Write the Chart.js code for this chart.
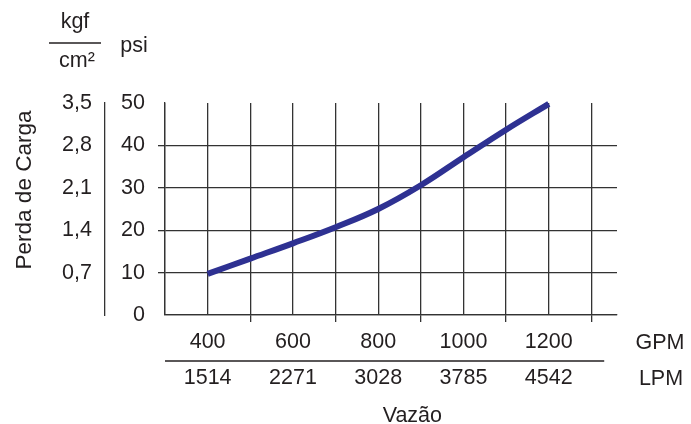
<!DOCTYPE html>
<html>
<head>
<meta charset="utf-8">
<script src="https://cdn.jsdelivr.net/npm/chart.js@4.4.1/dist/chart.umd.min.js"></script>
<style>
    html, body { margin: 0; padding: 0; background: #fff; }
    #wrap { width: 691px; height: 424px; }
</style>
</head>
<body>
<div id="wrap"><canvas id="chartCanvas" width="691" height="424"></canvas></div>
<script>
// Curve (flow in GPM, pressure drop in psi)
const flowGpm = [400, 500, 600, 700, 800, 900, 1000, 1100, 1200];
const lossPsi = [9.7, 13.3, 16.9, 20.7, 25.0, 30.6, 37.2, 43.7, 49.8];

// Tick labels
const gpmLabels = [400, 600, 800, 1000, 1200];
const lpmLabels = [1514, 2271, 3028, 3785, 4542];
const gridGpm = [300, 400, 500, 600, 700, 800, 900, 1000, 1100, 1200, 1300];
const psiTicks = [0, 10, 20, 30, 40, 50];
const kgfTicks = [0.7, 1.4, 2.1, 2.8, 3.5];

const ink = '#231f20';
const gridInk = '#333333';
const lineBlue = '#2e3192';
const fontFamily = '"Liberation Sans", Arial, sans-serif';
const fontSize = 21.5;

const chartCanvas = document.getElementById('chartCanvas');

// Extra text and the GPM / LPM divider, placed from the scales
const extraText = {
    id: 'extraText',
    afterDraw(chart) {
        const ctx = chart.ctx;
        const x = chart.scales.x;
        const area = chart.chartArea;
        ctx.save();
        ctx.fillStyle = ink;
        ctx.strokeStyle = ink;
        ctx.font = fontSize + 'px ' + fontFamily;
        ctx.textAlign = 'center';
        ctx.textBaseline = 'alphabetic';

        // units above the y labels
        ctx.fillText('kgf', 75, 28);
        ctx.fillText('cm²', 77, 67);
        ctx.fillText('psi', 134, 52);
        ctx.lineWidth = 1.5;
        ctx.beginPath();
        ctx.moveTo(49, 43);
        ctx.lineTo(101, 43);
        ctx.stroke();

        // y title
        ctx.save();
        ctx.translate(25, 190);
        ctx.rotate(-Math.PI / 2);
        ctx.textBaseline = 'middle';
        ctx.font = '22.5px ' + fontFamily;
        ctx.fillText('Perda de Carga', 0, 0);
        ctx.restore();

        // divider between GPM and LPM rows
        ctx.lineWidth = 1.5;
        ctx.beginPath();
        ctx.moveTo(area.left, 361);
        ctx.lineTo(x.getPixelForValue(1330), 361);
        ctx.stroke();

        ctx.textBaseline = 'middle';
        ctx.fillText('GPM', 660, 343);
        ctx.fillText('LPM', 661, 379);

        ctx.textBaseline = 'alphabetic';
        ctx.fillText('Vazão', x.getPixelForValue(880), 422);
        ctx.restore();
    }
};

new Chart(chartCanvas, {
    type: 'line',
    data: {
        datasets: [{
            data: flowGpm.map((g, i) => ({ x: g, y: lossPsi[i] })),
            xAxisID: 'x',
            yAxisID: 'y',
            borderColor: lineBlue,
            borderWidth: 6,
            borderCapStyle: 'butt',
            pointRadius: 0,
            tension: 0.4,
            fill: false,
            clip: false
        }]
    },
    options: {
        responsive: false,
        animation: false,
        devicePixelRatio: 1,
        layout: {
            padding: { top: 103, right: 74, left: 0, bottom: 0 }
        },
        plugins: {
            legend: { display: false },
            tooltip: { enabled: false }
        },
        scales: {
            x: {
                type: 'linear',
                min: 300,
                max: 1360,
                afterBuildTicks: function (scale) {
                    scale.ticks = gridGpm.map(v => ({ value: v }));
                },
                afterFit: function (scale) {
                    scale.height = 109;
                },
                grid: {
                    color: gridInk,
                    lineWidth: 1.3,
                    tickLength: 7,
                    tickWidth: 1.3,
                    tickColor: function (c) {
                        const v = c.tick ? c.tick.value : 0;
                        return v >= 500 && (v / 100) % 2 === 1 ? gridInk : 'rgba(0,0,0,0)';
                    }
                },
                border: { display: true, color: gridInk, width: 1.3 },
                ticks: {
                    autoSkip: false,
                    maxRotation: 0,
                    padding: 2,
                    color: ink,
                    font: { family: fontFamily, size: fontSize, lineHeight: 36 / fontSize },
                    callback: function (value) {
                        const i = gpmLabels.indexOf(value);
                        return i < 0 ? '' : [String(gpmLabels[i]), String(lpmLabels[i])];
                    }
                }
            },
            y: {
                type: 'linear',
                position: 'left',
                weight: 0,
                min: 0,
                max: 50,
                afterBuildTicks: function (scale) {
                    scale.ticks = psiTicks.map(v => ({ value: v }));
                },
                afterFit: function (scale) {
                    scale.width = 60;
                },
                grid: {
                    lineWidth: 1.3,
                    tickLength: 7,
                    tickWidth: 1.3,
                    color: function (c) {
                        return c.tick && c.tick.value === 50 ? 'rgba(0,0,0,0)' : gridInk;
                    },
                    tickColor: function (c) {
                        const v = c.tick ? c.tick.value : 0;
                        return v === 0 || v === 50 ? 'rgba(0,0,0,0)' : gridInk;
                    }
                },
                border: { display: true, color: gridInk, width: 1.3 },
                ticks: {
                    padding: 13,
                    color: ink,
                    font: { family: fontFamily, size: fontSize }
                }
            },
            yk: {
                type: 'linear',
                position: 'left',
                weight: 1,
                min: 0,
                max: 3.5,
                afterBuildTicks: function (scale) {
                    scale.ticks = kgfTicks.map(v => ({ value: v }));
                },
                afterFit: function (scale) {
                    scale.width = 105;
                },
                grid: { display: false, drawTicks: false },
                border: { display: true, color: gridInk, width: 1.3 },
                ticks: {
                    padding: 13,
                    color: ink,
                    font: { family: fontFamily, size: fontSize },
                    callback: function (value) {
                        return value.toFixed(1).replace('.', ',');
                    }
                }
            }
        }
    },
    plugins: [extraText]
});
</script>
</body>
</html>
